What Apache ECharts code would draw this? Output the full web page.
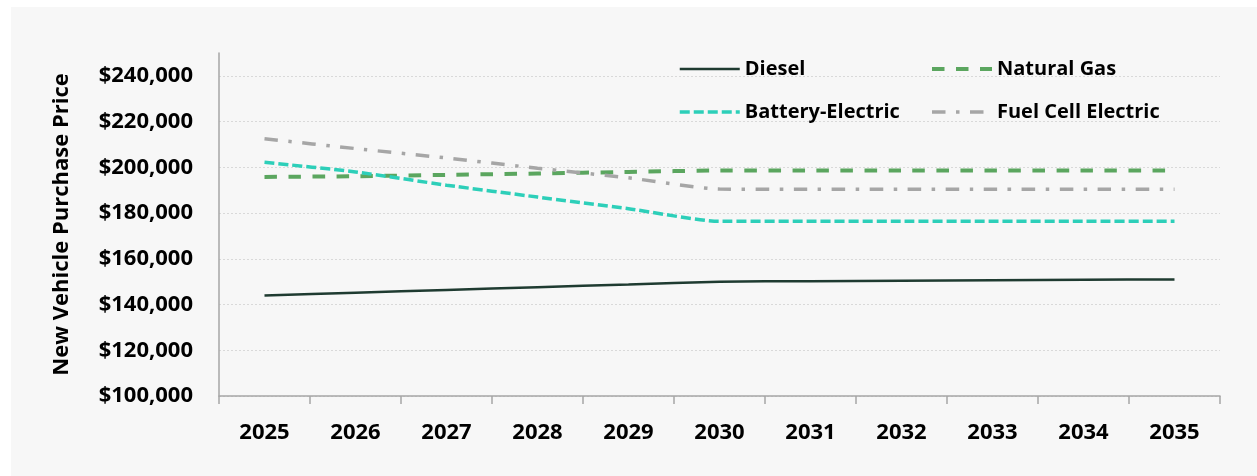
<!DOCTYPE html>
<html>
<head>
<meta charset="utf-8">
<script src="https://cdn.jsdelivr.net/npm/echarts@6/dist/echarts.min.js"></script>
<style>
  html, body { margin: 0; padding: 0; background: #ffffff; }
  #panel { position: absolute; left: 11px; top: 7px; width: 1246px; height: 469px; background: #f7f7f7; }
  #chart { position: absolute; left: 0; top: 0; width: 1257px; height: 476px; }
</style>
</head>
<body>
<div id="panel"></div>
<div id="chart"></div>
<script>
// Model years on the x axis
const years = ['2025', '2026', '2027', '2028', '2029', '2030', '2031', '2032', '2033', '2034', '2035'];

// New vehicle purchase price by powertrain (USD)
const diesel          = [144000, 145200, 146400, 147600, 148800, 150000, 150200, 150400, 150600, 150800, 151000];
const naturalGas      = [195800, 196100, 196700, 197300, 198000, 198600, 198600, 198600, 198600, 198600, 198600];
const batteryElectric = [202200, 198000, 192200, 187000, 181900, 176400, 176400, 176400, 176400, 176400, 176400];
const fuelCell        = [212500, 208200, 204100, 199600, 195400, 190500, 190400, 190400, 190400, 190400, 190400];

const FONT = '"Open Sans", "Noto Sans", sans-serif';
const chart = echarts.init(document.getElementById('chart'), null, { renderer: 'canvas' });

const legendText = { fontFamily: FONT, fontSize: 20, fontWeight: 'bold', color: '#000000' };
const legendBase = {
  orient: 'vertical', top: 59, itemGap: 23, padding: 0,
  itemWidth: 60, itemHeight: 20,
  itemStyle: { color: 'rgba(0,0,0,0)', borderWidth: 0 },
  lineStyle: { width: 'inherit' },
  textStyle: legendText
};

function lineSeries(name, data, color, width, dash) {
  return {
    name: name,
    type: 'line',
    data: data,
    symbol: 'none',
    smooth: 0.2,
    lineStyle: { color: color, width: width, type: dash },
    itemStyle: { color: color },
    emphasis: { disabled: true }
  };
}

chart.setOption({
  backgroundColor: 'transparent',
  animation: false,
  grid: { left: 219, right: 37, top: 53, bottom: 80 },
  legend: [
    Object.assign({ left: 678, data: ['Diesel', 'Battery-Electric'] }, legendBase),
    Object.assign({ left: 930, data: ['Natural Gas', 'Fuel Cell Electric'] }, legendBase)
  ],
  xAxis: {
    type: 'category',
    data: years,
    boundaryGap: true,
    axisLine: { lineStyle: { color: '#a6a6a6', width: 1.5 } },
    axisTick: { show: true, length: 8, lineStyle: { color: '#a6a6a6', width: 1.5 } },
    axisLabel: { fontFamily: FONT, fontSize: 22, fontWeight: 'bold', color: '#000000', margin: 26 },
    splitLine: { show: false }
  },
  yAxis: {
    type: 'value',
    min: 100000,
    max: 250000,
    interval: 20000,
    name: 'New Vehicle Purchase Price',
    nameLocation: 'middle',
    nameGap: 146,
    nameTextStyle: { fontFamily: FONT, fontSize: 22, fontWeight: 'bold', color: '#000000' },
    axisLine: { show: true, lineStyle: { color: '#a6a6a6', width: 1.5 } },
    axisTick: { show: false },
    axisLabel: {
      fontFamily: FONT, fontSize: 22, fontWeight: 'bold', color: '#000000', margin: 26,
      showMaxLabel: false,
      formatter: v => '$' + v.toLocaleString('en-US')
    },
    splitLine: {
      show: true, showMaxLine: false,
      lineStyle: { color: '#d9d9d9', width: 1, type: [2, 2] }
    }
  },
  series: [
    lineSeries('Diesel', diesel, '#1f3b31', 2.5, 'solid'),
    lineSeries('Natural Gas', naturalGas, '#5ba65f', 4, [12.5, 11.5]),
    lineSeries('Battery-Electric', batteryElectric, '#2dcfb9', 3.5, [10, 4]),
    lineSeries('Fuel Cell Electric', fuelCell, '#a6a6a6', 3.5, [13.5, 10.5, 3.5, 10.5])
  ]
});
</script>
</body>
</html>
